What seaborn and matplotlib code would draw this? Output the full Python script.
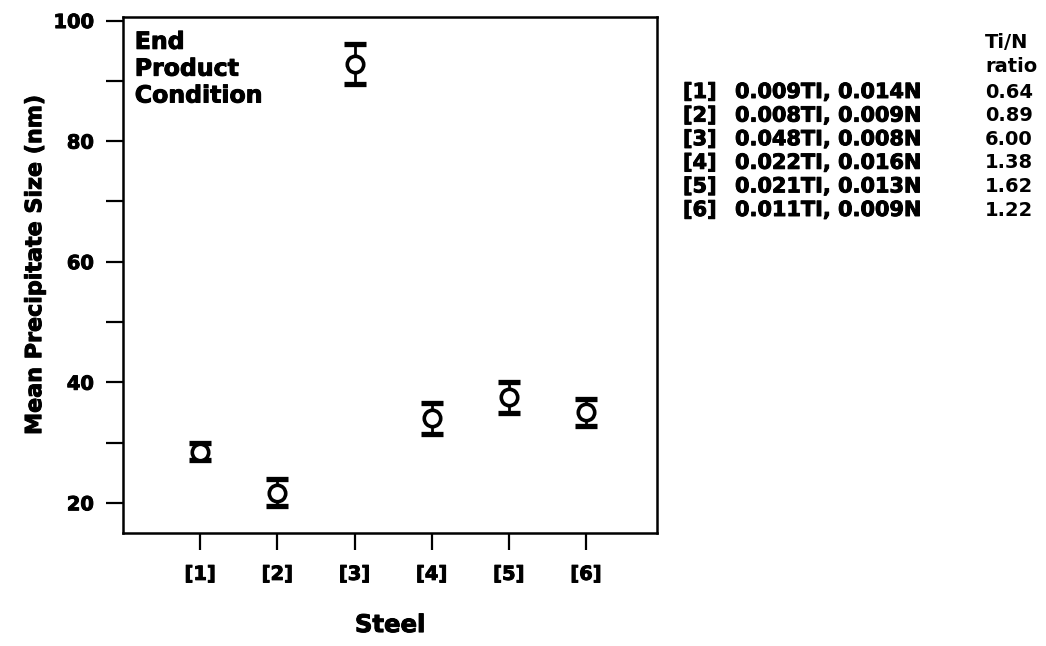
import seaborn as sns
import matplotlib.pyplot as plt
import matplotlib.patheffects as pe

# values
steels = ['[1]', '[2]', '[3]', '[4]', '[5]', '[6]']
positions = [1, 2, 3, 4, 5, 6]
mean_size = [28.5, 21.7, 92.8, 34.0, 37.5, 35.0]
size_err = [1.4, 2.2, 3.3, 2.6, 2.6, 2.2]

compositions = ['0.009TI, 0.014N', '0.008TI, 0.009N', '0.048TI, 0.008N',
                '0.022TI, 0.016N', '0.021TI, 0.013N', '0.011TI, 0.009N']
ratios = ['0.64', '0.89', '6.00', '1.38', '1.62', '1.22']

sns.set_theme(style='ticks')
plt.rcParams['font.family'] = ['DejaVu Sans']
plt.rcParams['font.weight'] = 'bold'
plt.rcParams['text.color'] = 'black'
plt.rcParams['axes.labelcolor'] = 'black'

# slightly heavier glyphs, like the scanned original
heavy = [pe.withStroke(linewidth=0.7, foreground='black')]

fig = plt.figure(figsize=(10.46, 6.46), dpi=100)
ax = fig.add_axes([0.1176, 0.175, 0.5105, 0.7988])

ax.errorbar(positions, mean_size, yerr=size_err, fmt='none', ecolor='black',
            elinewidth=2.0, capsize=8, capthick=3.8, zorder=2)
sns.scatterplot(x=positions, y=mean_size, ax=ax, marker='o', s=140,
                facecolor='white', edgecolor='black', linewidth=2.6, zorder=3)

ax.set_xlim(0, 6.92)
ax.set_ylim(15, 100.6)
ax.set_xticks(positions)
ax.set_xticklabels(steels)
ax.set_yticks([20, 40, 60, 80, 100])
ax.set_yticks([30, 50, 70, 90], minor=True)

for side in ['left', 'bottom', 'top', 'right']:
    ax.spines[side].set_linewidth(1.8)
    ax.spines[side].set_color('black')
ax.tick_params(axis='both', which='both', direction='out', length=12, width=1.6,
               color='black', labelsize=14, labelcolor='black')
ax.tick_params(axis='x', pad=11)
ax.tick_params(axis='y', pad=9)
for lbl in ax.get_xticklabels() + ax.get_yticklabels():
    lbl.set_fontweight('bold')
    lbl.set_path_effects(heavy)

ax.set_xlabel('Steel', fontsize=17.5, fontweight='bold', labelpad=21,
              path_effects=heavy)
ax.set_ylabel('Mean Precipitate Size (nm)', fontsize=16, fontweight='bold',
              labelpad=6, y=0.52, path_effects=heavy)

ax.text(0.022, 0.975, 'End\nProduct\nCondition', transform=ax.transAxes,
        ha='left', va='top', fontsize=17, fontweight='bold', linespacing=1.15,
        path_effects=heavy)

# legend table on the right
fig.text(0.9417, 1 - 43 / 646, 'Ti/N', ha='left', va='center', fontsize=14, fontweight='bold')
fig.text(0.9417, 1 - 67 / 646, 'ratio', ha='left', va='center', fontsize=14, fontweight='bold')
for i, (s, c, r) in enumerate(zip(steels, compositions, ratios)):
    y = 1 - (92 + 23.6 * i) / 646
    fig.text(0.653, y, s, ha='left', va='center', fontsize=15, fontweight='bold',
             path_effects=heavy)
    fig.text(0.7027, y, c, ha='left', va='center', fontsize=15, fontweight='bold',
             path_effects=heavy)
    fig.text(0.9417, y, r, ha='left', va='center', fontsize=14, fontweight='bold')

fig.savefig('out.png', dpi=100, facecolor='white')
